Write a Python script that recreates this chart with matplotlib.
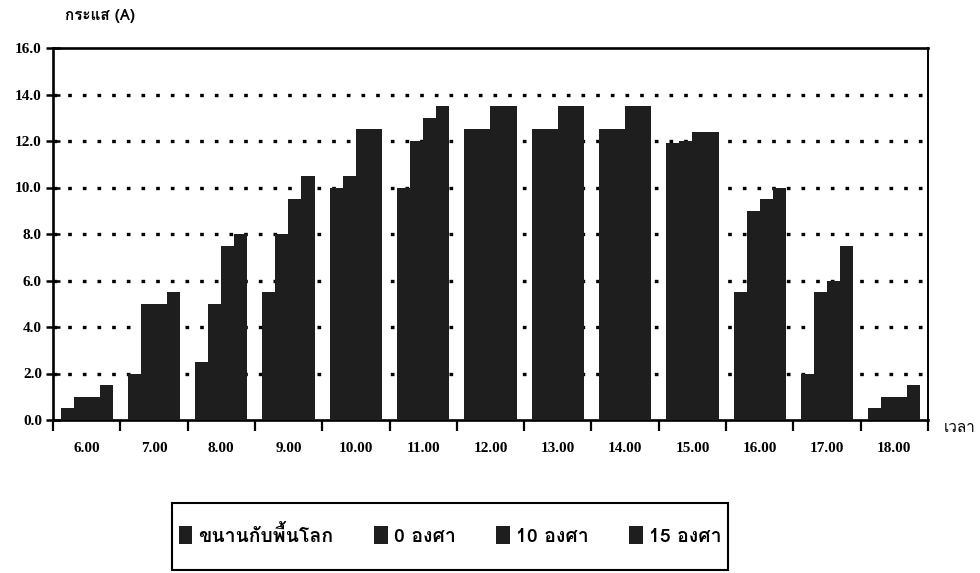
import numpy as np
import matplotlib
matplotlib.use("Agg")
import matplotlib.pyplot as plt
from matplotlib import font_manager
from matplotlib.ft2font import FT2Font
from matplotlib.patches import Patch, Rectangle
from matplotlib.ticker import FixedLocator

# --- data -------------------------------------------------------------
times = ["6.00", "7.00", "8.00", "9.00", "10.00", "11.00", "12.00",
         "13.00", "14.00", "15.00", "16.00", "17.00", "18.00"]
series_names = ["ขนานกับพื้นโลก", "0 องศา", "10 องศา", "15 องศา"]
parallel = [0.5, 2.0, 2.5, 5.5, 10.0, 10.0, 12.5, 12.5, 12.5, 11.9, 5.5, 2.0, 0.5]
deg0 = [1.0, 5.0, 5.0, 8.0, 10.5, 12.0, 12.5, 12.5, 12.5, 12.0, 9.0, 5.5, 1.0]
deg10 = [1.0, 5.0, 7.5, 9.5, 12.5, 13.0, 13.5, 13.5, 13.5, 12.4, 9.5, 6.0, 1.0]
deg15 = [1.5, 5.5, 8.0, 10.5, 12.5, 13.5, 13.5, 13.5, 13.5, 12.4, 10.0, 7.5, 1.5]
y_ticks = [0, 2, 4, 6, 8, 10, 12, 14, 16]
y_label = "กระแส (A)"
x_label = "เวลา"


def thai_family():
    """First installed family that can draw Thai script."""
    seen = set()
    for fe in font_manager.fontManager.ttflist:
        if fe.fname in seen:
            continue
        seen.add(fe.fname)
        try:
            cmap = FT2Font(fe.fname).get_charmap()
        except Exception:
            continue
        if 0x0E01 in cmap and 0x0E32 in cmap and 0x0E49 in cmap:
            return fe.name
    return "DejaVu Sans"


THAI = [thai_family(), "DejaVu Sans"]
NUM = ["Liberation Serif", "DejaVu Serif"]

bar_color = "#1e1e1e"

W, H = 980, 573
fig = plt.figure(figsize=(W / 100, H / 100), dpi=100)
ax = fig.add_axes([53 / W, 1 - 420 / H, 875 / W, 372 / H])

series = [parallel, deg0, deg10, deg15]
n = len(times)
x = np.arange(n) + 0.5
w = 0.193
for k, vals in enumerate(series):
    ax.bar(x + (k - 1.5) * w, vals, width=w * 1.02, color=bar_color,
           edgecolor="none", antialiased=False, zorder=3)

ax.set_xlim(0, n)
ax.set_ylim(0, 16)

# dotted horizontal gridlines
for yv in y_ticks[1:-1]:
    ax.axhline(yv, color="black", lw=2.4, linestyle=(0, (1.1, 3.3)),
               dash_capstyle="butt", zorder=1)

for name, s in ax.spines.items():
    s.set_color("black")
    s.set_linewidth(1.4 if name == "right" else 1.9)

# y axis
ax.set_yticks(y_ticks)
ax.set_yticklabels([f"{v:.1f}" for v in y_ticks], family=NUM,
                   fontweight="bold", fontsize=11)
ax.tick_params(axis="y", direction="inout", length=10, width=1.8, pad=3)

# x axis: tick marks on group boundaries, labels under group centres
ax.xaxis.set_minor_locator(FixedLocator(np.arange(n + 1)))
ax.set_xticks(x)
ax.set_xticklabels(times, family=NUM, fontweight="bold", fontsize=11)
ax.tick_params(axis="x", which="major", length=0, pad=16)
ax.tick_params(axis="x", which="minor", direction="out", length=8, width=1.6)

fig.text(65 / W, 1 - 16 / H, y_label, family=THAI, fontweight="bold",
         fontsize=11, ha="left", va="center")
fig.text(944 / W, 1 - 428 / H, x_label, family=THAI, fontsize=11,
         ha="left", va="center")

# legend: frameless entries inside a hand-placed box
handles = [Patch(facecolor=bar_color, edgecolor="none") for _ in series_names]
leg = fig.legend(handles, series_names, loc="center",
                 bbox_to_anchor=(450 / W, 1 - 535 / H), ncol=4, frameon=False,
                 borderpad=0.0, handlelength=0.7, handleheight=1.1,
                 handletextpad=0.3, columnspacing=2.1,
                 prop={"family": THAI, "weight": "bold", "size": 14})
fig.add_artist(Rectangle((172 / W, 1 - 570 / H), 556 / W, 67 / H,
                         transform=fig.transFigure, fill=False,
                         edgecolor="black", linewidth=1.5))

fig.savefig("out.png", dpi=100, facecolor="white")
